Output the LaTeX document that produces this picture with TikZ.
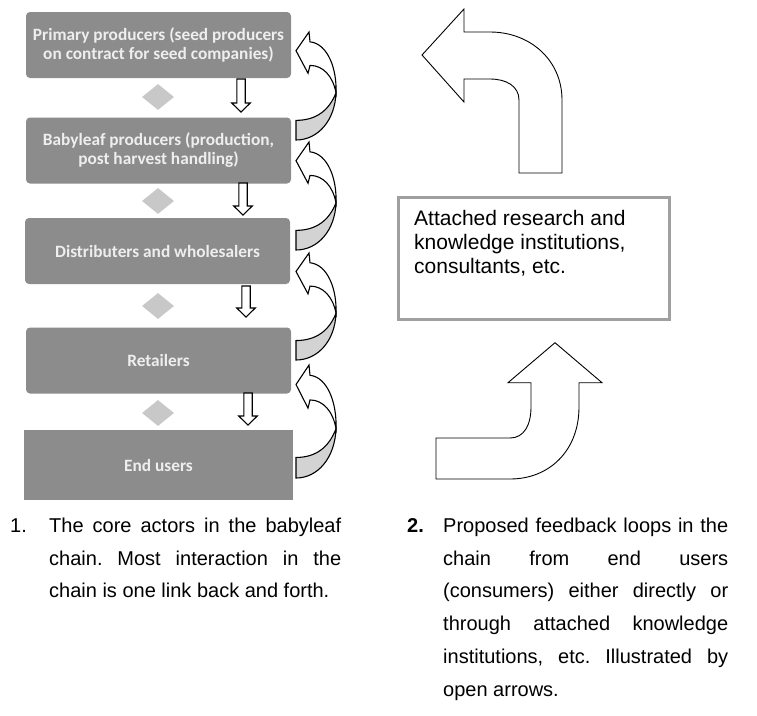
\documentclass[tikz,border=0pt]{standalone}
\usepackage{fontspec}
\setmainfont{Liberation Sans}
\newfontfamily\boxfont{Carlito}
\usetikzlibrary{shapes.geometric}
\frenchspacing
\definecolor{boxgray}{HTML}{8C8C8C}
\definecolor{boxtext}{HTML}{EEEEEE}
\definecolor{diagray}{HTML}{C8C8C8}
\definecolor{backgray}{HTML}{D3D3D3}
\definecolor{framegray}{HTML}{A0A0A0}
\tikzset{
  chainbox/.style={fill=boxgray, text=boxtext, rounded corners=4pt, inner sep=0pt,
    minimum width=265, minimum height=66, align=center,
    font=\boxfont\bfseries\fontsize{17.3}{19}\selectfont},
  linkdiamond/.style={diamond, fill=diagray, inner sep=0pt, minimum width=32, minimum height=26},
  smallarr/.style={draw=black, fill=white, line width=1.1pt, line join=miter},
  curvarr/.style={draw=black, line width=1.1pt, line join=miter},
  bigarr/.style={draw=black, fill=white, line width=0.9pt, line join=miter},
  captext/.style={anchor=north west, inner sep=0pt, align=justify,
    font=\fontsize{20}{32.8}\selectfont}
}
\newcommand\chaindown[3]{%
  \draw[smallarr] (#1-4.2,#2) -- (#1+4.2,#2) -- (#1+4.2,#3-9) -- (#1+9.3,#3-9)
    -- (#1,#3) -- (#1-9.3,#3-9) -- (#1-4.2,#3-9) -- cycle;}
\newcommand\feedarrow[2]{%
  \begin{scope}[shift={(296,#1)}, yscale=#2/110]
    \filldraw[curvarr, fill=backgray] (40,62) .. controls (39,90) and (22,110) .. (0,110)
      -- (0,90) .. controls (20,90) and (33,80) .. (40,62) -- cycle;
    \filldraw[curvarr, fill=white] (13,0) -- (0,19) -- (12,42) -- (14,34)
      .. controls (27,34) and (37,45) .. (40,62)
      .. controls (41,38) and (32,12) .. (14,10) -- cycle;
  \end{scope}}
\begin{document}
\begin{tikzpicture}[x=1pt, y=-1pt]
\useasboundingbox (0,0) rectangle (757,715);
% chain boxes
\node[chainbox] (b1) at (158.5,45) {Primary producers (seed producers\\on contract for seed companies)};
\node[chainbox] (b2) at (158.5,150.5) {Babyleaf producers (production,\\post harvest handling)};
\node[chainbox] (b3) at (157.5,251) {Distributers and wholesalers};
\node[chainbox] (b4) at (158.5,360.5) {Retailers};
\node[chainbox, rounded corners=0pt, minimum width=269, minimum height=70] (b5) at (158.5,465) {End users};
% diamonds
\node[linkdiamond] (d1) at (158,97) {};
\node[linkdiamond] (d2) at (158,201) {};
\node[linkdiamond] (d3) at (158,306) {};
\node[linkdiamond] (d4) at (158,413) {};
% forward arrows
\chaindown{241}{79}{112}
\chaindown{243}{183}{215}
\chaindown{246}{286}{317}
\chaindown{248}{393}{425}
% feedback curved arrows
\feedarrow{32}{108}
\feedarrow{142}{108}
\feedarrow{253}{107}
\feedarrow{365}{113}
% right side
\draw[bigarr] (422,55) -- (464,9) -- (464,32) -- (490,32)
  .. controls (530,32) and (562,60) .. (562,100) -- (562,173) -- (519,173) -- (519,100)
  .. controls (519,86) and (506,79) .. (490,79) -- (464,79) -- (464,102) -- cycle;
\draw[draw=framegray, line width=3pt] (398,197) rectangle (669,319);
\node[anchor=north west, inner sep=0pt, align=left, font=\fontsize{21}{24}\selectfont] (inst) at (414,210)
  {Attached research and\\knowledge institutions,\\consultants, etc.};
\draw[bigarr] (555,342.7) -- (602,382.7) -- (579,382.7) -- (579,407)
  .. controls (579,450) and (550,479) .. (510,479) -- (436,479) -- (436,438) -- (510,438)
  .. controls (524,438) and (531,425) .. (531,407) -- (531,382.7) -- (508,382.7) -- cycle;
% captions
\node[anchor=base west, inner sep=0pt, font=\fontsize{20}{32.8}\selectfont] (n1) at (10,532) {1.};
\node[captext, text width=292] (c1) at (49,517.5)
  {The core actors in the babyleaf\linebreak chain. Most interaction in the\linebreak chain is one link back and forth.};
\node[anchor=base west, inner sep=0pt, font=\bfseries\fontsize{20}{32.8}\selectfont] (n2) at (407,532) {2.};
\node[captext, text width=285] (c2) at (443,517.5)
  {Proposed feedback loops in the\linebreak chain from end users\linebreak (consumers) either directly or\linebreak through attached knowledge\linebreak institutions, etc. Illustrated by\linebreak open arrows.};
\end{tikzpicture}
\end{document}
